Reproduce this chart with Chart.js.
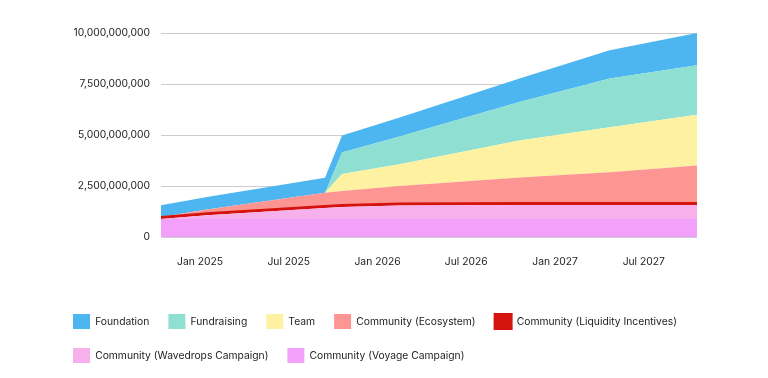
<!DOCTYPE html>
<html>
<head>
<meta charset="utf-8">
<script src="https://cdn.jsdelivr.net/npm/chart.js@4"></script>
<style>
  html, body { margin: 0; padding: 0; background: #fff; }
  #wrap { width: 768px; height: 378px; position: relative; }
</style>
</head>
<body>
<div id="wrap"><canvas id="c"></canvas></div>
<script>
// Months relative to Jan 2025 (0 = Jan 2025)
const months = [-2.64, 0.47, 8.45, 9.6, 13.5, 21.6, 27.7, 33.6];
const xTickMonths = [0, 6, 12, 18, 24, 30];
const xTickLabels = ['Jan 2025', 'Jul 2025', 'Jan 2026', 'Jul 2026', 'Jan 2027', 'Jul 2027'];
const yTicks = [0, 2500000000, 5000000000, 7500000000, 10000000000];

// Series (unlocked tokens), bottom of stack first
const voyage      = [880e6, 880e6, 880e6, 880e6, 880e6, 880e6, 880e6, 880e6];
const wavedrops   = [0, 190e6, 540e6, 590e6, 660e6, 690e6, 690e6, 690e6];
const liquidity   = [100e6, 100e6, 100e6, 100e6, 100e6, 100e6, 100e6, 100e6];
const ecosystem   = [0, 180e6, 650e6, 690e6, 860e6, 1245e6, 1500e6, 1830e6];
const team        = [0, 0, 0, 830e6, 1070e6, 1810e6, 2210e6, 2490e6];
const fundraising = [0, 0, 0, 1050e6, 1360e6, 1890e6, 2390e6, 2430e6];
const foundation  = [575e6, 610e6, 740e6, 830e6, 930e6, 1150e6, 1390e6, 1580e6];

const seriesNames = [
  'Community (Voyage Campaign)',
  'Community (Wavedrops Campaign)',
  'Community (Liquidity Incentives)',
  'Community (Ecosystem)',
  'Team',
  'Fundraising',
  'Foundation'
];
const seriesValues = [voyage, wavedrops, liquidity, ecosystem, team, fundraising, foundation];
const seriesColors = ['#f3a0fa', '#f8b0ec', '#d4140e', '#fd9692', '#fef2a2', '#8fe0d2', '#4db6f1'];

const datasets = seriesNames.map((name, i) => ({
  label: name,
  data: months.map((m, j) => ({ x: m, y: seriesValues[i][j] })),
  backgroundColor: seriesColors[i],
  borderColor: seriesColors[i],
  borderWidth: i === 2 ? 2 : 0,
  pointRadius: 0,
  tension: 0,
  fill: i === 0 ? 'origin' : '-1'
}));

Chart.defaults.font.family = 'Inter, "Noto Sans", sans-serif';
Chart.defaults.font.size = 10.3;
Chart.defaults.color = '#222';

new Chart(document.getElementById('c'), {
  type: 'line',
  data: { datasets },
  options: {
    responsive: true,
    maintainAspectRatio: false,
    animation: false,
    layout: { padding: { left: 54, right: 10, top: 33, bottom: 5 } },
    plugins: {
      tooltip: { enabled: false },
      legend: {
        position: 'bottom',
        align: 'start',
        reverse: true,
        labels: {
          boxWidth: 17,
          boxHeight: 15,
          padding: 19,
          color: '#222'
        }
      }
    },
    scales: {
      x: {
        type: 'linear',
        min: months[0],
        max: months[months.length - 1],
        grid: { display: false },
        border: { display: false },
        afterBuildTicks: (s) => { s.ticks = xTickMonths.map(v => ({ value: v })); },
        afterFit: (s) => { s.height = 58; },
        ticks: {
          padding: 11,
          maxRotation: 0,
          autoSkip: false,
          callback: (v) => { const k = xTickMonths.indexOf(v); return k >= 0 ? xTickLabels[k] : ''; }
        }
      },
      y: {
        stacked: true,
        min: 0,
        max: 10000000000,
        z: 1,
        border: { display: false },
        grid: { color: 'rgba(0,0,0,0.2)', lineWidth: 1, drawTicks: false },
        afterBuildTicks: (s) => { s.ticks = yTicks.map(v => ({ value: v })); },
        afterFit: (s) => { s.width = 107; },
        ticks: {
          padding: 11,
          callback: (v) => Number(v).toLocaleString('en-US')
        }
      },
      yRight: {
        type: 'linear',
        position: 'right',
        display: true,
        grid: { display: false },
        border: { display: false },
        ticks: { display: false },
        afterFit: (s) => { s.width = 61; }
      }
    }
  }
});
</script>
</body>
</html>
